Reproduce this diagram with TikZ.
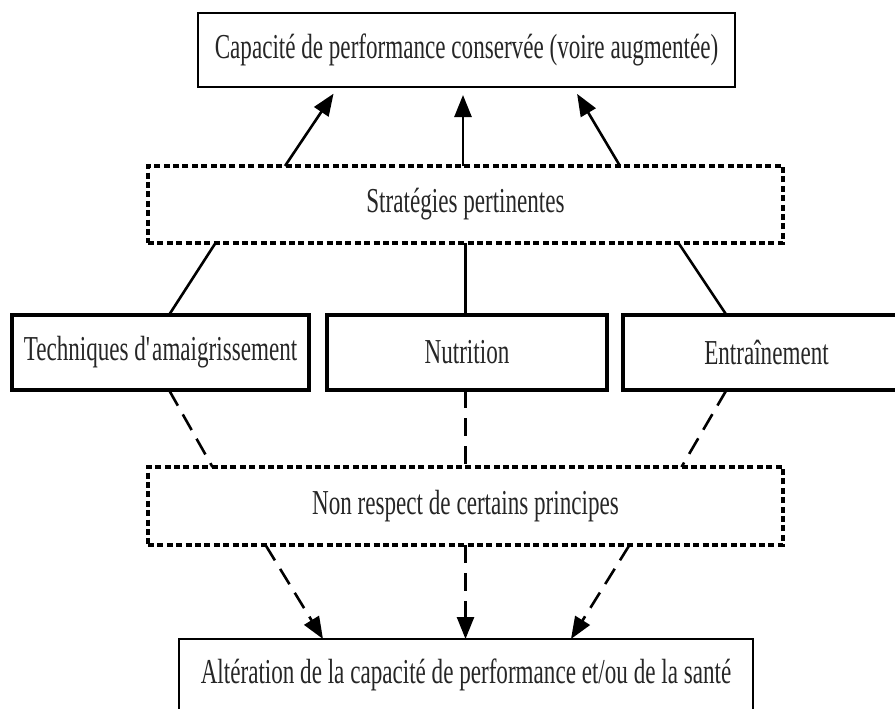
\documentclass[tikz,border=0pt]{standalone}
\usepackage{fontspec}
\setmainfont{Liberation Serif}[FakeStretch=0.66]
\usetikzlibrary{arrows.meta}

\begin{document}
\begin{tikzpicture}[x=1pt,y=-1pt,
  box/.style={draw, line width=3.2pt, inner sep=0pt, outer sep=0pt,
    align=center, font=\fontsize{35}{38}\selectfont, text=black!85},
  dotbox/.style={box, line width=4.4pt, dash pattern=on 6pt off 3.4pt},
  link/.style={line width=2.6pt},
  dlink/.style={link, dash pattern=on 18pt off 10pt},
  tip/.style={-{Triangle[length=22pt,width=17pt]}}]
\useasboundingbox (0,0) rectangle (895,709);
\clip (0,0) rectangle (895,709);

% boxes
\node[box, line width=2.6pt, minimum width=537pt, minimum height=74pt] (top) at (466.5,50)
  {Capacité de performance conservée (voire augmentée)};
\node[dotbox, minimum width=635pt, minimum height=77pt] (strat) at (465.5,204.5)
  {Stratégies pertinentes};
\node[box, minimum width=297pt, minimum height=75pt] (tech) at (160.5,352.5)
  {Techniques d\textquotesingle amaigrissement};
\node[box, minimum width=280pt, minimum height=75pt] (nut) at (467,352.5)
  {Nutrition};
\node[box, minimum width=287pt, minimum height=75pt] (ent) at (766.5,352.5)
  {Entraînement};
\node[dotbox, minimum width=635pt, minimum height=78pt] (nonr) at (465.5,506)
  {Non respect de certains principes};
\node[box, line width=2.6pt, minimum width=574pt, minimum height=72pt] (bot) at (466,675)
  {Altération de la capacité de performance et/ou de la santé};

% solid arrows up to the top box
\draw[link, tip, shorten >=8pt] ([xshift=-180.5pt]strat.north) -- ([xshift=-128.5pt]top.south);
\draw[link, tip, shorten >=8pt] ([xshift=-2.5pt]strat.north) -- ([xshift=-3.5pt]top.south);
\draw[link, tip, shorten >=8pt] ([xshift=154.5pt]strat.north) -- ([xshift=106.5pt]top.south);

% solid links from the three domains
\draw[link] ([xshift=-250pt]strat.south) -- ([xshift=8.5pt]tech.north);
\draw[link] (strat.south) -- (strat.south |- nut.north);
\draw[link] ([xshift=213pt]strat.south) -- ([xshift=-40pt]ent.north);

% dashed links to the failure box
\draw[dlink] ([xshift=8.5pt]tech.south) -- ([xshift=-253pt]nonr.north);
\draw[dlink] (nonr.north |- nut.south) -- (nonr.north);
\draw[dlink] ([xshift=-40pt]ent.south) -- ([xshift=216pt]nonr.north);

% dashed arrows down to the bottom box
\draw[dlink, tip] ([xshift=-200pt]nonr.south) -- ([xshift=-143pt]bot.north);
\draw[dlink, tip] (nonr.south) -- (nonr.south |- bot.north);
\draw[dlink, tip] ([xshift=164pt]nonr.south) -- ([xshift=105pt]bot.north);
\end{tikzpicture}
\end{document}
